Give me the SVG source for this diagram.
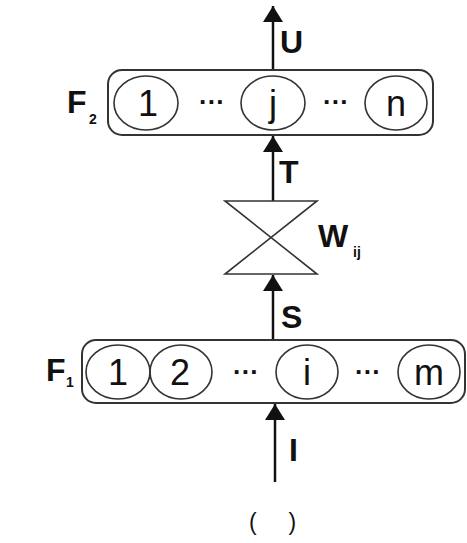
<svg xmlns="http://www.w3.org/2000/svg" width="467" height="543" viewBox="0 0 467 543">
<style>
.box{fill:none;stroke:#333;stroke-width:2}
.node{fill:none;stroke:#333;stroke-width:1.6}
.num{font-family:"Liberation Sans",Arial,sans-serif;font-size:36px;fill:#111;text-anchor:middle}
.lbl{font-family:"Liberation Sans",Arial,sans-serif;font-size:32px;font-weight:bold;fill:#111}
.sub{font-family:"Liberation Sans",Arial,sans-serif;font-size:14px;font-weight:bold;fill:#111}
.dots{font-family:"Liberation Sans",Arial,sans-serif;font-size:26px;font-weight:bold;fill:#111;text-anchor:middle}
.conn{stroke:#111;stroke-width:2.5;fill:none}
.hg{stroke:#333;stroke-width:1.6;fill:none}
</style>
<defs>
<marker id="arr" viewBox="0 0 16 20" refX="16" refY="10" markerWidth="16" markerHeight="20" markerUnits="userSpaceOnUse" orient="auto">
<path d="M0,0 L16,10 L0,20 Z" fill="#111"/>
</marker>
</defs>
<rect width="467" height="543" fill="#fff"/>

<g id="connectors">
<line class="conn" x1="273" y1="70" x2="273" y2="6" marker-end="url(#arr)"/>
<line class="conn" x1="273" y1="201" x2="273" y2="136" marker-end="url(#arr)"/>
<line class="conn" x1="273" y1="340" x2="273" y2="275" marker-end="url(#arr)"/>
<line class="conn" x1="275" y1="482" x2="275" y2="404" marker-end="url(#arr)"/>
<text class="lbl" x="280" y="53">U</text>
<text class="lbl" x="279" y="183">T</text>
<text class="lbl" x="281" y="328">S</text>
<text class="lbl" x="289" y="461">I</text>
</g>

<g id="F2">
<rect class="box" x="108" y="70" width="325" height="65" rx="14"/>
<text class="lbl" x="67" y="113">F</text>
<text class="sub" x="89" y="124">2</text>
<g id="F2-1"><ellipse class="node" cx="146" cy="103" rx="32" ry="27"/><text class="num" x="148" y="116">1</text></g>
<text class="dots" x="212" y="111">···</text>
<g id="F2-j"><ellipse class="node" cx="273" cy="103" rx="32" ry="27"/><text class="num" x="273" y="116">j</text></g>
<text class="dots" x="336" y="111">···</text>
<g id="F2-n"><ellipse class="node" cx="396" cy="103" rx="31" ry="27"/><text class="num" x="396" y="116">n</text></g>
</g>

<g id="W">
<path class="hg" d="M225,201 H317 L225,274 H317 Z"/>
<text class="lbl" x="318" y="247" font-size="34">W</text>
<text class="sub" x="353" y="257">ij</text>
</g>

<g id="F1">
<rect class="box" x="82" y="340" width="383" height="63" rx="14"/>
<text class="lbl" x="46" y="381">F</text>
<text class="sub" x="66" y="387">1</text>
<g id="F1-1"><ellipse class="node" cx="118" cy="372" rx="32" ry="27"/><text class="num" x="118" y="385">1</text></g>
<g id="F1-2"><ellipse class="node" cx="181" cy="372" rx="31" ry="27"/><text class="num" x="180" y="385">2</text></g>
<text class="dots" x="246" y="381">···</text>
<g id="F1-i"><ellipse class="node" cx="307" cy="372" rx="31" ry="27"/><text class="num" x="307" y="385">i</text></g>
<text class="dots" x="368" y="381">···</text>
<g id="F1-m"><ellipse class="node" cx="429" cy="372" rx="31" ry="27"/><text class="num" x="429" y="385">m</text></g>
</g>

<text x="249" y="530" xml:space="preserve" font-family="'Liberation Sans',Arial,sans-serif" font-size="23" fill="#111">(     )</text>
</svg>
